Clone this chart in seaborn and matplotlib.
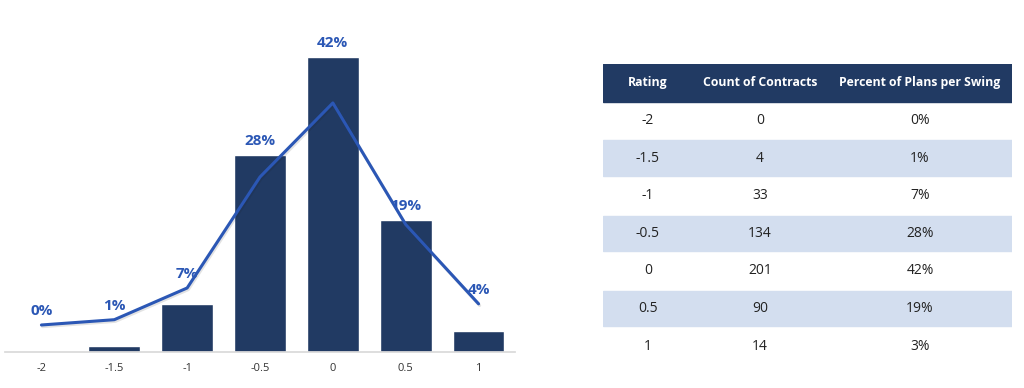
import numpy as np
import pandas as pd
import seaborn as sns
import matplotlib.pyplot as plt
import matplotlib.patheffects as pe

ratings = ["-2", "-1.5", "-1", "-0.5", "0", "0.5", "1"]
counts = [0, 4, 33, 134, 201, 90, 14]
line_pct = [0, 1, 7, 28, 42, 19, 4]
table_pct = ["0%", "1%", "7%", "28%", "42%", "19%", "3%"]
col_names = ["Rating", "Count of Contracts", "Percent of Plans per Swing"]

navy = "#213a63"
blue = "#2b57b5"
stripe = "#d3deef"

sns.set_theme(style="white")
plt.rcParams["font.family"] = ["Open Sans", "DejaVu Sans"]

df = pd.DataFrame({"rating": ratings, "count": counts, "pct": line_pct})
df["pos"] = np.arange(len(df))

fig = plt.figure(figsize=(10.24, 3.88), dpi=100)

# left: bars + percentage line
ax = fig.add_axes([5 / 1024, 36 / 388, 510 / 1024, 322 / 388])
sns.barplot(data=df, x="rating", y="count", color=navy, width=0.71,
            saturation=1, ax=ax)
ax.set_xlim(-0.5, 6.5)
ax.set_ylim(0, 219.4)
ax.set_xlabel("")
ax.set_ylabel("")
ax.set_yticks([])
for s in ["top", "right", "left"]:
    ax.spines[s].set_visible(False)
ax.spines["bottom"].set_color("#d9d9d9")
ax.tick_params(axis="x", length=0, labelsize=8, colors="#333333", pad=8)

ax2 = ax.twinx()
sns.lineplot(data=df, x="pos", y="pct", color=blue, linewidth=2.2, ax=ax2,
             path_effects=[pe.SimpleLineShadow(offset=(0.8, -1.2), alpha=0.12),
                           pe.Normal()])
ax2.set_ylim(-5.11, 55.8)
ax2.set_axis_off()

# data labels above whichever mark is higher
for i, row in df.iterrows():
    bar_top = ax.transData.transform((i, row["count"]))[1]
    line_top = ax2.transData.transform((i, row["pct"]))[1]
    y_px = max(bar_top, line_top) + 7
    y = ax.transData.inverted().transform((0, y_px))[1]
    ax.text(i, y, f"{row['pct']}%", ha="center", va="bottom",
            color=blue, fontsize=11, fontweight="bold")

# right: table
tax = fig.add_axes([603 / 1024, 23 / 388, 409 / 1024, 301 / 388])
tax.set_xlim(0, 1)
n_rows = len(ratings) + 1
tax.set_ylim(n_rows, 0)
tax.set_axis_off()
col_x = [0.11, 0.384, 0.775]

tax.axhspan(0, 1, color=navy)
for j, name in enumerate(col_names):
    tax.text(col_x[j], 0.5, name, ha="center", va="center", color="white",
             fontsize=8.8, fontweight="bold")

for i in range(len(ratings)):
    r = i + 1
    if i % 2 == 1:
        tax.axhspan(r + 0.03, r + 0.97, color=stripe)
    vals = [ratings[i], str(counts[i]), table_pct[i]]
    for j, v in enumerate(vals):
        tax.text(col_x[j], r + 0.5, v, ha="center", va="center",
                 color="#222222", fontsize=10)

fig.savefig("out.png", dpi=100)
plt.close(fig)
